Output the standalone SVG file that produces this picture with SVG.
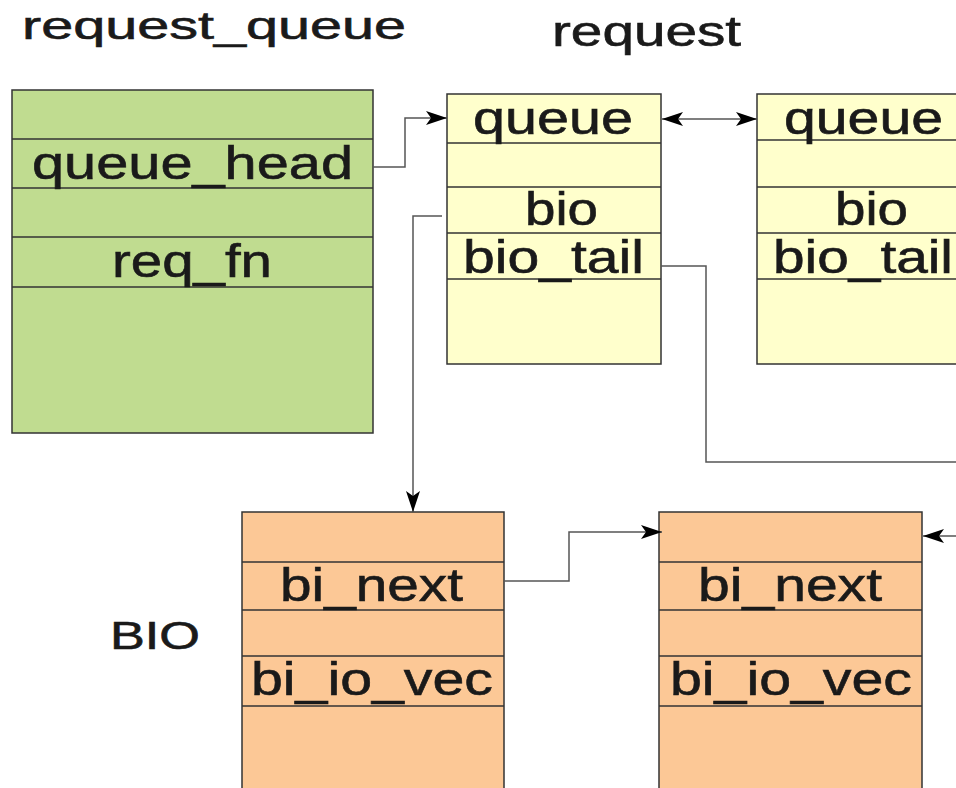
<svg xmlns="http://www.w3.org/2000/svg" width="956" height="788" viewBox="0 0 956 788">
<defs>
<style>
.t{font-family:"Liberation Sans",Arial,sans-serif;fill:#1a1a1a;stroke:#1a1a1a;stroke-width:0.6;}
.f{font-size:47px;}
.box{stroke:#333;stroke-width:1.5;}
.div{stroke:#333;stroke-width:1.3;}
.green{fill:#c0dc90;}
.yellow{fill:#ffffcc;}
.orange{fill:#fcc896;}
.conn{fill:none;stroke:#555;stroke-width:1.5;}
</style>
<marker id="ah" markerUnits="userSpaceOnUse" markerWidth="24" markerHeight="14" refX="21" refY="7" orient="auto-start-reverse">
<path d="M0,0 L21,7 L0,14 L5,7 Z" fill="#000"/>
</marker>
</defs>
<rect width="956" height="788" fill="#fff"/>

<g id="title-request_queue"><text class="t" x="22" y="39" font-size="39" textLength="384" lengthAdjust="spacingAndGlyphs">request_queue</text></g>
<g id="title-request"><text class="t" x="552" y="46" font-size="42" textLength="189" lengthAdjust="spacingAndGlyphs">request</text></g>
<g id="title-BIO"><text class="t" x="110" y="649" font-size="38" textLength="90" lengthAdjust="spacingAndGlyphs">BIO</text></g>

<g id="request_queue">
<rect class="box green" x="12" y="90" width="361" height="343"/>
<line class="div" x1="12" y1="139" x2="373" y2="139"/>
<line class="div" x1="12" y1="188" x2="373" y2="188"/>
<line class="div" x1="12" y1="237" x2="373" y2="237"/>
<line class="div" x1="12" y1="287" x2="373" y2="287" stroke-width="2"/>
<text class="t f" x="32" y="179" textLength="321" lengthAdjust="spacingAndGlyphs">queue_head</text>
<text class="t f" x="112" y="277" textLength="160" lengthAdjust="spacingAndGlyphs">req_fn</text>
</g>

<g id="request1">
<rect class="box yellow" x="447" y="94" width="214" height="270"/>
<line class="div" x1="447" y1="143" x2="661" y2="143"/>
<line class="div" x1="447" y1="187" x2="661" y2="187"/>
<line class="div" x1="447" y1="233" x2="661" y2="233"/>
<line class="div" x1="447" y1="279" x2="661" y2="279"/>
<text class="t f" x="473" y="134" textLength="160" lengthAdjust="spacingAndGlyphs">queue</text>
<text class="t f" x="525" y="225" textLength="73" lengthAdjust="spacingAndGlyphs">bio</text>
<text class="t f" x="463" y="273" textLength="181" lengthAdjust="spacingAndGlyphs">bio_tail</text>
</g>

<g id="request2">
<rect class="box yellow" x="757" y="94" width="220" height="270"/>
<line class="div" x1="757" y1="140" x2="977" y2="140"/>
<line class="div" x1="757" y1="187" x2="977" y2="187"/>
<line class="div" x1="757" y1="233" x2="977" y2="233"/>
<line class="div" x1="757" y1="279" x2="977" y2="279"/>
<text class="t f" x="784" y="134" textLength="159" lengthAdjust="spacingAndGlyphs">queue</text>
<text class="t f" x="835" y="225" textLength="73" lengthAdjust="spacingAndGlyphs">bio</text>
<text class="t f" x="773" y="273" textLength="180" lengthAdjust="spacingAndGlyphs">bio_tail</text>
</g>

<g id="bio1">
<rect class="box orange" x="242" y="512" width="262" height="290"/>
<line class="div" x1="242" y1="562" x2="504" y2="562" stroke-width="2.2"/>
<line class="div" x1="242" y1="610" x2="504" y2="610"/>
<line class="div" x1="242" y1="656" x2="504" y2="656"/>
<line class="div" x1="242" y1="706" x2="504" y2="706" stroke="#777" stroke-width="2.5"/>
<text class="t f" x="280" y="601" textLength="183" lengthAdjust="spacingAndGlyphs">bi_next</text>
<text class="t f" x="251" y="695" textLength="242" lengthAdjust="spacingAndGlyphs">bi_io_vec</text>
</g>

<g id="bio2">
<rect class="box orange" x="659" y="512" width="263" height="290"/>
<line class="div" x1="659" y1="562" x2="922" y2="562" stroke-width="2.2"/>
<line class="div" x1="659" y1="610" x2="922" y2="610"/>
<line class="div" x1="659" y1="656" x2="922" y2="656"/>
<line class="div" x1="659" y1="706" x2="922" y2="706" stroke="#777" stroke-width="2.5"/>
<text class="t f" x="698" y="601" textLength="184" lengthAdjust="spacingAndGlyphs">bi_next</text>
<text class="t f" x="670" y="695" textLength="242" lengthAdjust="spacingAndGlyphs">bi_io_vec</text>
</g>

<g id="connectors">
<polyline class="conn" points="373,167 405,167 405,118 447,118" marker-end="url(#ah)"/>
<line class="conn" x1="662" y1="119" x2="757" y2="119" marker-start="url(#ah)" marker-end="url(#ah)"/>
<polyline class="conn" points="442,216 413,216 413,512" marker-end="url(#ah)"/>
<polyline class="conn" points="661,266 706,266 706,462 960,462"/>
<polyline class="conn" points="504,581 569,581 569,532 662,532" marker-end="url(#ah)"/>
<line class="conn" x1="960" y1="536" x2="923" y2="536" marker-end="url(#ah)"/>
</g>
</svg>
